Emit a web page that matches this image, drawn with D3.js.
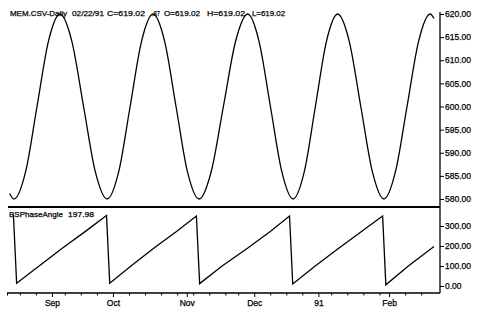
<!DOCTYPE html>
<html>
<head>
<meta charset="utf-8">
<script src="https://cdn.jsdelivr.net/npm/d3@7"></script>
<style>
  body { margin: 0; background: #fff; }
  text { font-family: "Liberation Sans", Arial, sans-serif; fill: #000; stroke: #000; stroke-width: 0.25px; }
</style>
</head>
<body>
<svg width="479" height="315"></svg>
<script>
// header pieces of the price panel
const titleParts = ["MEM.CSV-Daily", "02/22/91", "C=619.02", ".87", "O=619.02", "H=619.02", "L=619.02"];
const indicatorName = "BSPhaseAngle";
const indicatorValue = "197.98";

// bar index (trading days from 08/14/90) and close, read at sample points
const priceIdx = [0.8, 2.2, 5.8, 9.35, 12.9, 16.5, 20.2, 23.85, 27.5, 31.2, 34.8, 38.35, 41.9, 45.5,
  49.1, 52.65, 56.2, 59.8, 63.6, 67.4, 71.2, 75, 78.5, 82.05, 85.6, 89.1, 92.6, 96.05, 99.5, 103,
  106.6, 110.2, 113.8, 117.4, 121, 124.6, 128.2, 131.8, 133];
const priceVal = [581.2, 580, 585.9, 600, 614.1, 620, 614.1, 600, 585.9, 580, 585.9, 600, 614.1, 620,
  614.1, 600, 585.9, 580, 585.9, 600, 614.1, 620, 614.1, 600, 585.9, 580, 585.9, 600, 614.1, 620,
  614.1, 600, 585.9, 580, 585.9, 600, 614.1, 620, 619.02];

// phase angle, corners of the saw tooth
const phaseIdx = [2, 3, 10, 17, 24, 31, 32, 39, 46, 53, 59, 60, 67, 75, 82, 88, 89, 96, 103, 110, 117, 118, 125, 133];
const phaseVal = [356, 14, 100, 186, 268, 352, 14, 105, 192, 275, 350, 12, 100, 190, 272, 350, 10, 100, 185, 268, 350, 6, 100, 198];

// axes
const priceTicks = [580, 585, 590, 595, 600, 605, 610, 615, 620];
const phaseTicks = [0, 100, 200, 300];
const monthLabels = ["Sep", "Oct", "Nov", "Dec", "91", "Feb"];
const monthIdx = [14, 33, 56, 77, 97, 119];
const weekIdx = [0, 4, 9, 18, 23, 28, 38, 43, 48, 53, 58, 63, 68, 72, 82, 87, 92, 101, 106, 111, 116, 124, 129];

var svg = d3.select("svg"),
  axisX = 440,
  fontSize = 8;

var x = d3.scaleLinear().domain([0, 133]).range([7, 434]);
var yPrice = d3.scaleLinear().domain([580, 620]).range([199, 14]);
var yPhase = d3.scaleLinear().domain([0, 300]).range([286, 226]);

// ===========================================================================
// PRICE PANEL
// ===========================================================================
var priceLine = d3.line()
  .x((d, i) => x(priceIdx[i]))
  .y((d) => yPrice(d))
  .curve(d3.curveMonotoneX);

svg.append("path")
  .datum(priceVal)
  .attr("d", priceLine)
  .attr("fill", "none")
  .attr("stroke", "#000")
  .attr("stroke-width", 1.3);

svg.append("g")
  .attr("transform", "translate(" + axisX + ",0)")
  .call(d3.axisRight(yPrice).tickValues(priceTicks).tickSize(4).tickPadding(1).tickFormat(d3.format(".2f")))
  .call((g) => g.select(".domain").remove())
  .call((g) => g.selectAll("text").attr("font-size", 8.5).attr("font-family", null));

// header, each piece squeezed to the width it has in the original
const titleX = [10, 72, 107, 152, 164, 207, 252];
const titleW = [57, 32, 38, 8, 36, 38, 33];
svg.selectAll(".title")
  .data(titleParts)
  .enter()
  .append("text")
  .attr("class", "title")
  .attr("x", (d, i) => titleX[i])
  .attr("y", 15.5)
  .attr("font-size", fontSize)
  .attr("textLength", (d, i) => titleW[i])
  .attr("lengthAdjust", "spacingAndGlyphs")
  .text((d) => d);

// separator
svg.append("line")
  .attr("x1", 8).attr("x2", axisX)
  .attr("y1", 207).attr("y2", 207)
  .attr("stroke", "#000").attr("stroke-width", 2);

// ===========================================================================
// PHASE PANEL
// ===========================================================================
var phaseLine = d3.line()
  .x((d, i) => x(phaseIdx[i]))
  .y((d) => yPhase(d));

svg.append("path")
  .datum(phaseVal)
  .attr("d", phaseLine)
  .attr("fill", "none")
  .attr("stroke", "#000")
  .attr("stroke-width", 1.3);

svg.append("g")
  .attr("transform", "translate(" + axisX + ",0)")
  .call(d3.axisRight(yPhase).tickValues(phaseTicks).tickSize(4).tickPadding(1).tickFormat(d3.format(".2f")))
  .call((g) => g.select(".domain").remove())
  .call((g) => g.selectAll("text").attr("font-size", 8.5).attr("font-family", null));

svg.append("text").attr("x", 9).attr("y", 216.5).attr("font-size", fontSize)
  .attr("textLength", 54).attr("lengthAdjust", "spacingAndGlyphs").text(indicatorName);
svg.append("text").attr("x", 68).attr("y", 216.5).attr("font-size", fontSize)
  .attr("textLength", 26).attr("lengthAdjust", "spacingAndGlyphs").text(indicatorValue);

// right axis line
svg.append("line")
  .attr("x1", axisX).attr("x2", axisX)
  .attr("y1", 12).attr("y2", 293)
  .attr("stroke", "#000").attr("stroke-width", 1.3);

// ===========================================================================
// TIME AXIS
// ===========================================================================
svg.append("line")
  .attr("x1", 7).attr("x2", axisX)
  .attr("y1", 293).attr("y2", 293)
  .attr("stroke", "#000").attr("stroke-width", 1.3);

svg.append("g")
  .attr("transform", "translate(0,293)")
  .call(d3.axisBottom(x).tickValues(weekIdx).tickSize(2.5).tickFormat(""))
  .call((g) => g.select(".domain").remove());

svg.append("g")
  .attr("transform", "translate(0,293)")
  .call(d3.axisBottom(x).tickValues(monthIdx).tickSize(4).tickPadding(3).tickFormat((d, i) => monthLabels[i]))
  .call((g) => g.select(".domain").remove())
  .call((g) => g.selectAll("text").attr("font-size", 8.5).attr("font-family", null));
</script>
</body>
</html>
